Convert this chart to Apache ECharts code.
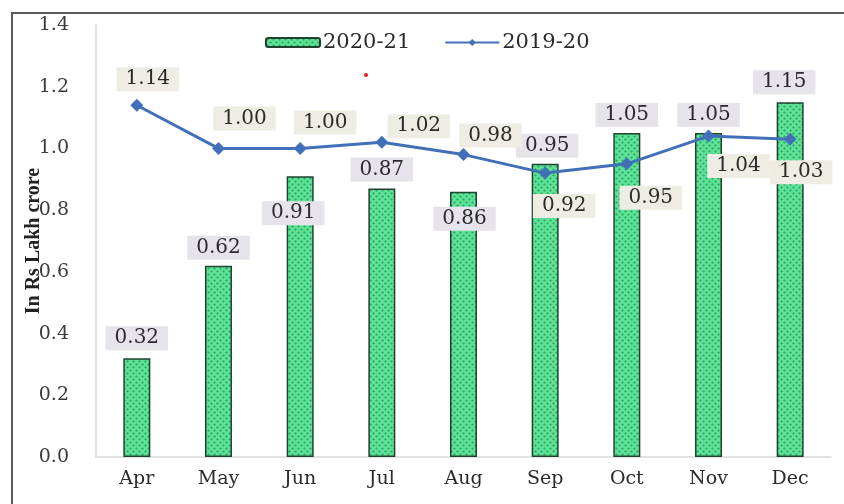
<!DOCTYPE html>
<html>
<head>
<meta charset="utf-8">
<script src="https://cdn.jsdelivr.net/npm/echarts@6/dist/echarts.min.js"></script>
<style>
  html, body { margin: 0; padding: 0; background: #fff; }
  #chart { width: 844px; height: 504px; }
</style>
</head>
<body>
<div id="chart"></div>
<script>
// Monthly collections, in Rs lakh crore
const months = ['Apr', 'May', 'Jun', 'Jul', 'Aug', 'Sep', 'Oct', 'Nov', 'Dec'];
const fy2021 = [0.32, 0.62, 0.91, 0.87, 0.86, 0.95, 1.05, 1.05, 1.15];
const fy1920 = [1.14, 1.00, 1.00, 1.02, 0.98, 0.92, 0.95, 1.04, 1.03];
const yMin = 0, yMax = 1.4, yStep = 0.2;

// Label placement (label centre relative to bar top / line point, px)
const barLabelShift = [[0, -20], [0, -18], [-7, 37], [0, -19], [1, 27], [2, -18], [0, -18], [0, -18], [-6, -20]];
const lineLabelShift = [[11, -26], [26, -30], [25, -26], [37, -16], [27, -19], [19, 33], [24, 34], [30, 30], [11, 33]];

const serif = 'DejaVu Serif';

// Dotted green fill for the columns
function dotPattern() {
  const c = document.createElement('canvas');
  c.width = 6; c.height = 6;
  const g = c.getContext('2d');
  g.fillStyle = '#5ce398';
  g.fillRect(0, 0, 6, 6);
  g.fillStyle = '#2e9f5e';
  g.beginPath(); g.arc(1.5, 1.5, 1.1, 0, Math.PI * 2); g.fill();
  g.beginPath(); g.arc(4.5, 4.5, 1.1, 0, Math.PI * 2); g.fill();
  return c;
}
const barFill = { image: dotPattern(), repeat: 'repeat' };

const labelBase = {
  show: true,
  fontFamily: serif,
  fontSize: 20,
  color: '#2a2a2a',
  lineHeight: 22,
  padding: [1, 9],
  align: 'center',
  verticalAlign: 'middle'
};

const barData = fy2021.map((v, i) => ({
  value: v,
  label: Object.assign({}, labelBase, {
    position: 'top', distance: 0,
    backgroundColor: '#e6e3eb',
    offset: barLabelShift[i],
    formatter: p => p.value.toFixed(2)
  })
}));

const lineData = fy1920.map((v, i) => ({
  value: v,
  label: Object.assign({}, labelBase, {
    position: 'inside',
    backgroundColor: '#efece3',
    offset: lineLabelShift[i],
    formatter: p => p.value.toFixed(2)
  })
}));

const chart = echarts.init(document.getElementById('chart'), null, { renderer: 'canvas' });
chart.setOption({
  animation: false,
  backgroundColor: '#fff',
  grid: { left: 96, right: 13, top: 25, bottom: 47 },
  legend: {
    top: 27,
    left: 260,
    itemWidth: 54,
    itemHeight: 9,
    itemGap: 34,
    textStyle: { fontFamily: serif, fontSize: 21, color: '#2a2a2a', padding: [0, 0, 0, -2] },
    data: ['2020-21', '2019-20']
  },
  xAxis: {
    type: 'category',
    data: months,
    axisLine: { show: true, lineStyle: { color: '#d9d9d9', width: 1.5 } },
    axisTick: { show: false },
    axisLabel: { fontFamily: serif, fontSize: 19, color: '#2a2a2a', margin: 13 }
  },
  yAxis: {
    type: 'value',
    min: yMin, max: yMax, interval: yStep,
    name: 'In Rs Lakh crore',
    nameLocation: 'middle',
    nameRotate: 90,
    nameGap: 52,
    nameMoveOverlap: false,
    nameTextStyle: { fontFamily: 'Liberation Serif', fontWeight: 'bold', fontSize: 20, color: '#222' },
    axisLine: { show: true, lineStyle: { color: '#d9d9d9', width: 1.5 } },
    axisTick: { show: false },
    splitLine: { show: false },
    axisLabel: {
      fontFamily: serif, fontSize: 19, color: '#3a3a3a', margin: 27,
      formatter: v => v.toFixed(1)
    }
  },
  series: [
    {
      name: '2020-21',
      type: 'bar',
      barWidth: 27,
      data: barData,
      itemStyle: { color: barFill, borderColor: '#21432d', borderWidth: 1.5 }
    },
    {
      name: '2019-20',
      type: 'line',
      data: lineData,
      symbol: 'diamond',
      symbolSize: 13,
      lineStyle: { color: '#4270b8', width: 3 },
      itemStyle: { color: '#4270b8' },
      z: 3
    }
  ],
  graphic: [
    { type: 'polyline', shape: { points: [[12, 504], [12, 13], [844, 13]] },
      style: { stroke: '#5a5a5a', lineWidth: 2, fill: null }, silent: true },
    { type: 'circle', shape: { cx: 366, cy: 75, r: 2 }, style: { fill: '#e02020' }, silent: true }
  ]
});
</script>
</body>
</html>
